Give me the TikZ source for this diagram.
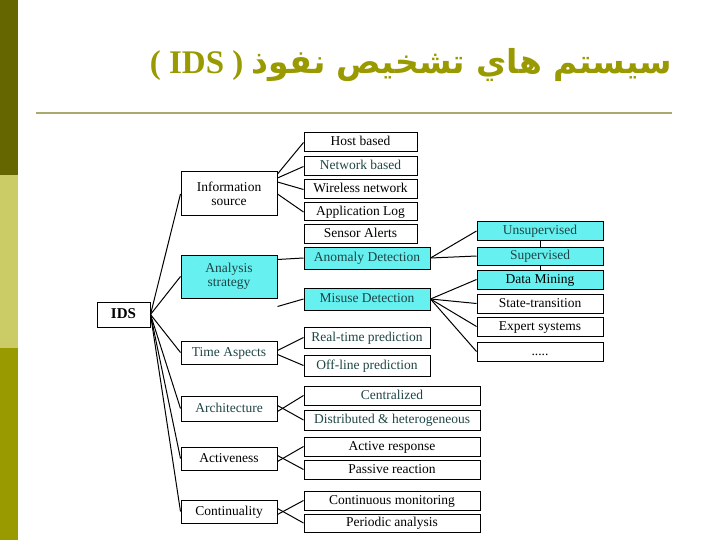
\documentclass[tikz,border=0pt]{standalone}
\usepackage{fontspec}
\setmainfont{Liberation Serif}
\newfontfamily\arabicfont[Script=Arabic]{DejaVu Sans}
\TeXXeTstate=1
\definecolor{olv}{HTML}{666600}
\definecolor{lolv}{HTML}{CCCC66}
\definecolor{molv}{HTML}{999900}
\definecolor{cy}{HTML}{66F0F0}
\definecolor{tl}{HTML}{1F4444}
\begin{document}
\begin{tikzpicture}[x=1pt,y=-1pt,
  bx/.style={draw,line width=1pt,inner sep=0pt,font=\fontsize{13.5}{14}\selectfont,align=center,text height=9.5pt,text depth=2.5pt},
  cb/.style={bx,fill=cy},
  ln/.style={line width=1pt}]
\useasboundingbox (0,0) rectangle (720,540);
\fill[olv] (0,0) rectangle (18,175);
\fill[lolv] (0,175) rectangle (18,348);
\fill[molv] (0,348) rectangle (18,540);
\draw[line width=1.5pt,color={rgb,255:red,170;green,170;blue,110}] (36,113) -- (672,113);
\node[anchor=east,text=molv,font=\fontsize{33}{34}\selectfont\bfseries] (title) at (676,65)
  {( IDS )\ {\arabicfont\beginR سيستم هاي تشخيص نفوذ\endR}};
% level 0
\node[bx,font=\fontsize{15}{16}\selectfont\bfseries,minimum width=53,minimum height=25] (ids) at (123.5,314.5) {IDS};
% level 1
\node[bx,minimum width=96,minimum height=44,text height=,text depth=] (info) at (229,194) {Information\\source};
\node[cb,text=tl,minimum width=96,minimum height=43,text height=,text depth=] (ana) at (229,276.5) {Analysis\\strategy};
\node[bx,text=tl,minimum width=96,minimum height=23] (time) at (229,352.5) {Time Aspects};
\node[bx,text=tl,minimum width=96,minimum height=25] (arch) at (229,408.5) {Architecture};
\node[bx,minimum width=96,minimum height=23] (act) at (229,458.5) {Activeness};
\node[bx,minimum width=96,minimum height=23] (cont) at (229,511.5) {Continuality};
% level 2
\node[bx,minimum width=113,minimum height=19] (host) at (360.5,142.5) {Host based};
\node[bx,text=tl,minimum width=113,minimum height=19] (net) at (360.5,166.5) {Network based};
\node[bx,minimum width=113,minimum height=19] (wire) at (360.5,189.5) {Wireless network};
\node[bx,minimum width=113,minimum height=18] (app) at (360.5,212) {Application Log};
\node[bx,minimum width=113,minimum height=18] (sens) at (360.5,234) {Sensor Alerts};
\node[cb,text=tl,minimum width=126,minimum height=22] (anom) at (367,258) {Anomaly Detection};
\node[cb,text=tl,minimum width=126,minimum height=22] (mis) at (367,299) {Misuse Detection};
\node[bx,text=tl,minimum width=126,minimum height=21] (rt) at (367,337.5) {Real-time prediction};
\node[bx,text=tl,minimum width=126,minimum height=21] (off) at (367,365.5) {Off-line prediction};
\node[bx,text=tl,minimum width=176,minimum height=19] (cen) at (392,395.5) {Centralized};
\node[bx,text=tl,minimum width=176,minimum height=20] (dis) at (392,420) {Distributed \& heterogeneous};
\node[bx,minimum width=176,minimum height=19] (ar) at (392,446.5) {Active response};
\node[bx,minimum width=176,minimum height=19] (pr) at (392,469.5) {Passive reaction};
\node[bx,minimum width=176,minimum height=19] (cm) at (392,500.5) {Continuous monitoring};
\node[bx,minimum width=176,minimum height=18] (pa) at (392,523) {Periodic analysis};
% level 3
\node[cb,text=tl,minimum width=126,minimum height=18] (uns) at (540,231) {Unsupervised};
\node[cb,text=tl,minimum width=126,minimum height=18] (sup) at (540,256) {Supervised};
\node[cb,minimum width=126,minimum height=19] (dm) at (540,279.5) {Data Mining};
\node[bx,minimum width=126,minimum height=19] (st) at (540,303.5) {State-transition};
\node[bx,minimum width=126,minimum height=19] (es) at (540,326.5) {Expert systems};
\node[bx,minimum width=126,minimum height=19] (dots) at (540,351.5) {.....};
% connectors
\foreach \t in {info,ana,time,arch,act,cont} \draw[ln] (ids.east) -- (\t.west);
\foreach \t/\s in {host/20,net/16,wire/12,app/0} \draw[ln] ([yshift=\s]info.east) -- (\t.west);
\draw[ln] ([yshift=3]ana.north east) ++(0,8) -- (anom.west);
\draw[ln] ([yshift=-8]ana.south east) -- (mis.west);
\draw[ln] (time.east) ++(0,-2) -- (rt.west);
\draw[ln] (time.east) ++(0,2) -- (off.west);
\foreach \a/\b/\c in {arch/cen/dis,act/ar/pr,cont/cm/pa}{
  \draw[ln] ([yshift=-3]\a.east) -- (\b.west);
  \draw[ln] ([yshift=3]\a.east) -- (\c.west);}
\draw[ln] (anom.east) -- (uns.west);
\draw[ln] (anom.east) -- (sup.west);
\draw[ln] (uns.south) -- (sup.north);
\draw[ln] (sup.south) -- (dm.north);
\foreach \t in {dm,st,es,dots} \draw[ln] (mis.east) -- (\t.west);
\end{tikzpicture}
\end{document}
